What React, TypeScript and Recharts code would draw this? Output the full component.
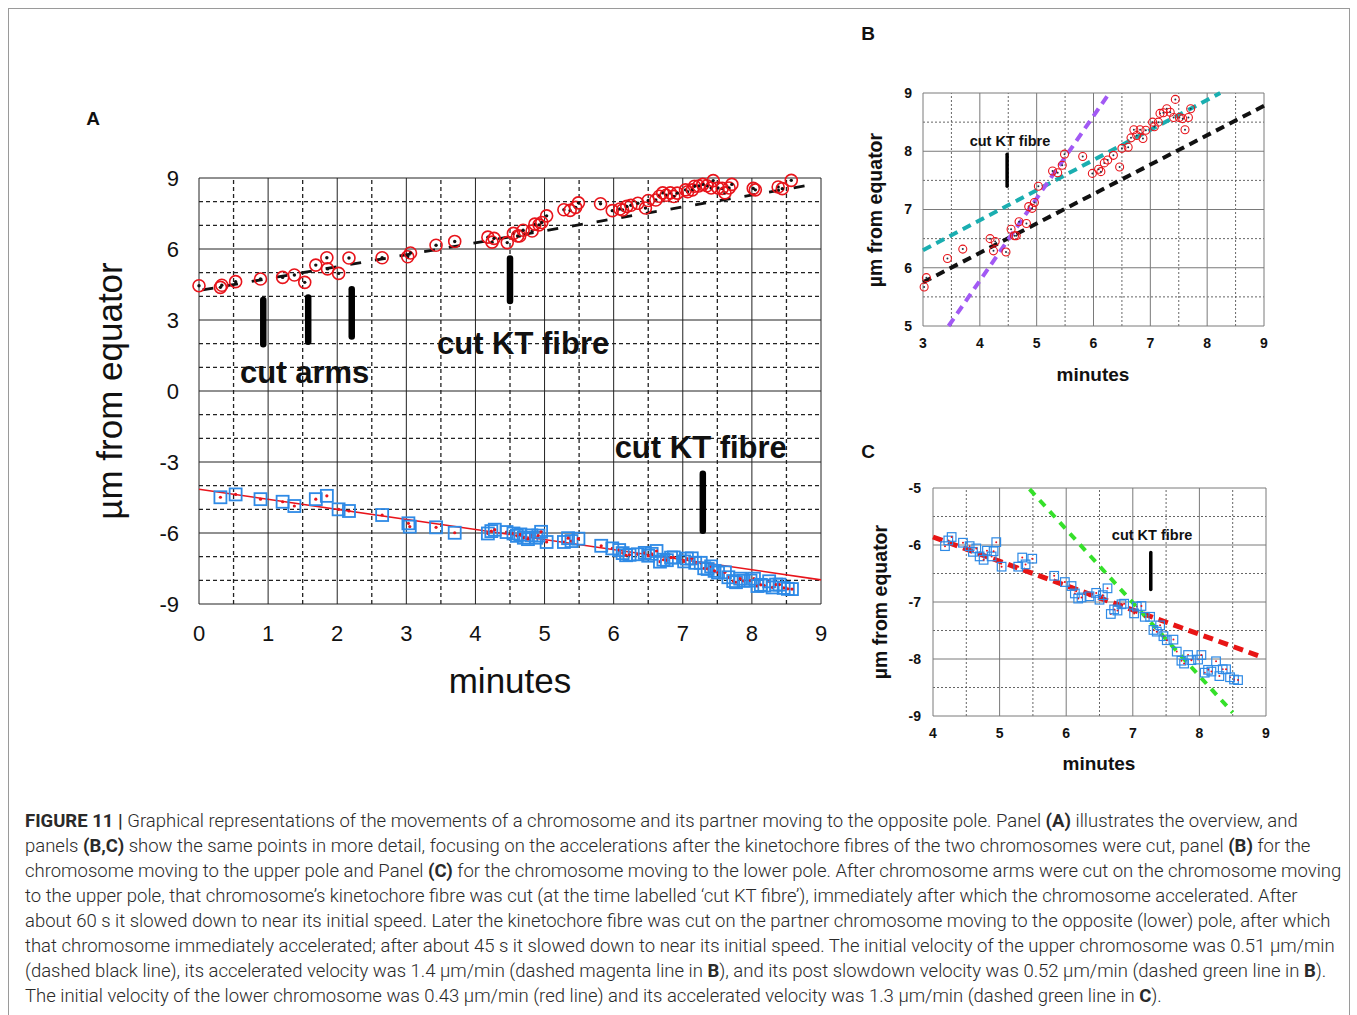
import React from 'react';
import { ScatterChart, Scatter, XAxis, YAxis, ReferenceLine, ReferenceDot } from 'recharts';

// ---------- DATA ----------
// upper chromosome (minutes, µm from equator)
const upperPoints = [
  { t: 0.0, y: 4.45 }, { t: 0.31, y: 4.38 }, { t: 0.33, y: 4.47 }, { t: 0.53, y: 4.62 },
  { t: 0.89, y: 4.73 }, { t: 1.21, y: 4.8 }, { t: 1.38, y: 4.9 }, { t: 1.53, y: 4.59 },
  { t: 1.69, y: 5.32 }, { t: 1.85, y: 5.63 }, { t: 1.86, y: 5.16 }, { t: 2.02, y: 4.97 },
  { t: 2.17, y: 5.62 }, { t: 2.65, y: 5.63 },
  { t: 3.02, y: 5.67 }, { t: 3.06, y: 5.83 }, { t: 3.43, y: 6.16 }, { t: 3.7, y: 6.32 },
  { t: 4.18, y: 6.5 }, { t: 4.24, y: 6.29 }, { t: 4.27, y: 6.45 }, { t: 4.46, y: 6.27 },
  { t: 4.55, y: 6.66 }, { t: 4.61, y: 6.55 }, { t: 4.64, y: 6.55 }, { t: 4.69, y: 6.79 },
  { t: 4.82, y: 6.76 }, { t: 4.86, y: 7.05 }, { t: 4.92, y: 7.02 }, { t: 4.96, y: 7.12 },
  { t: 5.03, y: 7.4 }, { t: 5.28, y: 7.66 }, { t: 5.37, y: 7.63 }, { t: 5.45, y: 7.76 },
  { t: 5.49, y: 7.95 }, { t: 5.81, y: 7.91 }, { t: 5.98, y: 7.62 }, { t: 6.09, y: 7.69 },
  { t: 6.13, y: 7.65 }, { t: 6.19, y: 7.8 }, { t: 6.25, y: 7.85 }, { t: 6.35, y: 7.93 },
  { t: 6.46, y: 7.73 }, { t: 6.5, y: 8.05 }, { t: 6.61, y: 8.07 }, { t: 6.66, y: 8.23 },
  { t: 6.71, y: 8.37 }, { t: 6.76, y: 8.27 }, { t: 6.82, y: 8.37 }, { t: 6.87, y: 8.22 },
  { t: 6.92, y: 8.36 }, { t: 7.04, y: 8.5 }, { t: 7.07, y: 8.42 }, { t: 7.14, y: 8.5 },
  { t: 7.17, y: 8.65 }, { t: 7.23, y: 8.66 }, { t: 7.29, y: 8.73 }, { t: 7.35, y: 8.67 },
  { t: 7.41, y: 8.58 }, { t: 7.44, y: 8.89 }, { t: 7.51, y: 8.58 }, { t: 7.57, y: 8.56 },
  { t: 7.61, y: 8.37 }, { t: 7.67, y: 8.58 }, { t: 7.71, y: 8.73 },
  { t: 8.02, y: 8.56 }, { t: 8.05, y: 8.5 }, { t: 8.38, y: 8.62 }, { t: 8.44, y: 8.55 },
  { t: 8.57, y: 8.9 },
];

// lower chromosome
const lowerPoints = [
  { t: 0.31, y: -4.49 }, { t: 0.53, y: -4.37 }, { t: 0.89, y: -4.57 }, { t: 1.21, y: -4.68 },
  { t: 1.38, y: -4.86 }, { t: 1.69, y: -4.57 }, { t: 1.85, y: -4.43 }, { t: 2.02, y: -5.0 },
  { t: 2.17, y: -5.07 }, { t: 2.65, y: -5.24 }, { t: 3.03, y: -5.59 }, { t: 3.05, y: -5.73 },
  { t: 3.43, y: -5.76 }, { t: 3.7, y: -5.99 },
  { t: 4.18, y: -6.02 }, { t: 4.23, y: -5.92 }, { t: 4.28, y: -5.86 }, { t: 4.45, y: -5.96 },
  { t: 4.55, y: -6.02 }, { t: 4.6, y: -6.12 }, { t: 4.65, y: -6.06 }, { t: 4.7, y: -6.2 },
  { t: 4.76, y: -6.26 }, { t: 4.81, y: -6.1 }, { t: 4.88, y: -6.2 }, { t: 4.91, y: -6.11 },
  { t: 4.95, y: -5.95 }, { t: 5.03, y: -6.38 }, { t: 5.28, y: -6.38 }, { t: 5.34, y: -6.22 },
  { t: 5.39, y: -6.34 }, { t: 5.49, y: -6.24 }, { t: 5.82, y: -6.54 }, { t: 5.98, y: -6.65 },
  { t: 6.08, y: -6.72 }, { t: 6.13, y: -6.85 }, { t: 6.18, y: -6.94 }, { t: 6.23, y: -6.92 },
  { t: 6.35, y: -6.9 }, { t: 6.45, y: -6.84 }, { t: 6.5, y: -6.96 }, { t: 6.55, y: -6.88 },
  { t: 6.62, y: -6.76 }, { t: 6.67, y: -7.21 }, { t: 6.72, y: -7.13 }, { t: 6.77, y: -7.15 },
  { t: 6.83, y: -7.04 }, { t: 6.87, y: -7.03 }, { t: 7.02, y: -7.2 }, { t: 7.06, y: -7.08 },
  { t: 7.13, y: -7.07 }, { t: 7.18, y: -7.26 }, { t: 7.26, y: -7.26 }, { t: 7.31, y: -7.49 },
  { t: 7.36, y: -7.52 }, { t: 7.41, y: -7.41 }, { t: 7.46, y: -7.6 }, { t: 7.51, y: -7.67 },
  { t: 7.61, y: -7.66 }, { t: 7.66, y: -7.87 }, { t: 7.73, y: -8.03 }, { t: 7.77, y: -8.08 },
  { t: 7.83, y: -7.93 }, { t: 7.88, y: -8.02 }, { t: 7.98, y: -8.01 }, { t: 8.03, y: -7.93 },
  { t: 8.08, y: -8.24 }, { t: 8.13, y: -8.19 }, { t: 8.18, y: -8.22 }, { t: 8.25, y: -8.04 },
  { t: 8.3, y: -8.3 }, { t: 8.35, y: -8.18 }, { t: 8.4, y: -8.18 }, { t: 8.46, y: -8.32 },
  { t: 8.52, y: -8.36 }, { t: 8.58, y: -8.37 },
];

// fitted velocity lines (segment end points)
const fitUpperInitialA = [{ x: 0.05, y: 4.27 }, { x: 8.95, y: 8.76 }];
const fitLowerInitialA = [{ x: 0, y: -4.15 }, { x: 9, y: -7.98 }];
const fitUpperInitialB = [{ x: 3, y: 5.75 }, { x: 9, y: 8.78 }];
const fitUpperPostB = [{ x: 3, y: 6.3 }, { x: 8.23, y: 9 }];
const fitUpperAccelB = [{ x: 3.45, y: 5 }, { x: 6.28, y: 9 }];
const fitLowerInitialC = [{ x: 4, y: -5.86 }, { x: 8.9, y: -7.95 }];
const fitLowerAccelC = [{ x: 5.45, y: -5.02 }, { x: 8.5, y: -8.94 }];

// cut marks (time, top, bottom)
const cutMarksA = [
  { t: 0.93, y1: 3.85, y2: 1.98 },
  { t: 1.58, y1: 3.95, y2: 2.08 },
  { t: 2.21, y1: 4.3, y2: 2.3 },
  { t: 4.5, y1: 5.6, y2: 3.8 },
  { t: 7.29, y1: -3.5, y2: -5.9 },
];
const cutMarkB = { t: 4.48, y1: 7.95, y2: 7.4 };
const cutMarkC = { t: 7.27, y1: -6.13, y2: -6.78 };

const annotationsA = [
  { t: 1.53, y: 0.8, text: 'cut arms' },
  { t: 4.69, y: 2.0, text: 'cut KT fibre' },
  { t: 7.26, y: -2.4, text: 'cut KT fibre' },
];
const annotationB = { t: 4.53, y: 8.17, text: 'cut KT fibre' };
const annotationC = { t: 7.29, y: -5.83, text: 'cut KT fibre' };

// axis ticks / grids
const ticksA_X = [0, 1, 2, 3, 4, 5, 6, 7, 8, 9];
const minorA_X = [0.5, 1.5, 2.5, 3.5, 4.5, 5.5, 6.5, 7.5, 8.5];
const ticksA_Y = [-9, -6, -3, 0, 3, 6, 9];
const minorA_Y = [-8, -7, -5, -4, -2, -1, 1, 2, 4, 5, 7, 8];
const ticksB_X = [3, 4, 5, 6, 7, 8, 9];
const minorB_X = [3.5, 4.5, 5.5, 6.5, 7.5, 8.5];
const ticksB_Y = [5, 6, 7, 8, 9];
const minorB_Y = [5.5, 6.5, 7.5, 8.5];
const ticksC_X = [4, 5, 6, 7, 8, 9];
const minorC_X = [4.5, 5.5, 6.5, 7.5, 8.5];
const ticksC_Y = [-9, -8, -7, -6, -5];
const minorC_Y = [-8.5, -7.5, -6.5, -5.5];

const captionLines = [
  [{ b: 'FIGURE 11 | ' }, 'Graphical representations of the movements of a chromosome and its partner moving to the opposite pole. Panel ', { b: '(A)' }, ' illustrates the overview, and'],
  ['panels ', { b: '(B,C)' }, ' show the same points in more detail, focusing on the accelerations after the kinetochore fibres of the two chromosomes were cut, panel ', { b: '(B)' }, ' for the'],
  ['chromosome moving to the upper pole and Panel ', { b: '(C)' }, ' for the chromosome moving to the lower pole. After chromosome arms were cut on the chromosome moving'],
  ['to the upper pole, that chromosome\u2019s kinetochore fibre was cut (at the time labelled \u2018cut KT fibre\u2019), immediately after which the chromosome accelerated. After'],
  ['about 60 s it slowed down to near its initial speed. Later the kinetochore fibre was cut on the partner chromosome moving to the opposite (lower) pole, after which'],
  ['that chromosome immediately accelerated; after about 45 s it slowed down to near its initial speed. The initial velocity of the upper chromosome was 0.51 \u00b5m/min'],
  ['(dashed black line), its accelerated velocity was 1.4 \u00b5m/min (dashed magenta line in ', { b: 'B' }, '), and its post slowdown velocity was 0.52 \u00b5m/min (dashed green line in ', { b: 'B' }, ').'],
  ['The initial velocity of the lower chromosome was 0.43 \u00b5m/min (red line) and its accelerated velocity was 1.3 \u00b5m/min (dashed green line in ', { b: 'C' }, ').'],
];

// ---------- STYLES ----------
const FONT = '"Liberation Sans", Arial, sans-serif';
const RED = '#e8141b';
const BLUE = '#2e8ae6';

const circleA = (p: any) => (
  <g>
    <circle cx={p.cx} cy={p.cy} r={6} fill="none" stroke={RED} strokeWidth={1.6} />
    <circle cx={p.cx} cy={p.cy} r={1.7} fill="#111" />
  </g>
);
const squareA = (p: any) => (
  <g>
    <rect x={p.cx - 6} y={p.cy - 6} width={12} height={12} fill="none" stroke={BLUE} strokeWidth={1.8} />
    <circle cx={p.cx} cy={p.cy} r={1.6} fill={RED} />
  </g>
);
const circleB = (p: any) => (
  <g>
    <circle cx={p.cx} cy={p.cy} r={4} fill="none" stroke={RED} strokeWidth={1.1} />
    <circle cx={p.cx} cy={p.cy} r={1} fill="#234" />
  </g>
);
const squareC = (p: any) => (
  <g>
    <rect x={p.cx - 4.3} y={p.cy - 4.3} width={8.6} height={8.6} fill="none" stroke={BLUE} strokeWidth={1.2} />
    <circle cx={p.cx} cy={p.cy} r={1} fill={RED} />
  </g>
);

const labelShape = (text: string, size: number) => (p: any) => (
  <text x={p.cx} y={p.cy} textAnchor="middle" dominantBaseline="central" fontSize={size} fontWeight="bold" fill="#111" fontFamily={FONT}>
    {text}
  </text>
);

function gridLines(majX: number[], minX: number[], majY: number[], minY: number[], majColor: string, minColor: string, minDash: string, minWidth: number) {
  const out: any[] = [];
  minX.forEach((v) => out.push(<ReferenceLine key={'mx' + v} x={v} stroke={minColor} strokeDasharray={minDash} strokeWidth={minWidth} />));
  minY.forEach((v) => out.push(<ReferenceLine key={'my' + v} y={v} stroke={minColor} strokeDasharray={minDash} strokeWidth={minWidth} />));
  majX.forEach((v) => out.push(<ReferenceLine key={'Mx' + v} x={v} stroke={majColor} strokeWidth={1} />));
  majY.forEach((v) => out.push(<ReferenceLine key={'My' + v} y={v} stroke={majColor} strokeWidth={1} />));
  return out;
}

function Txt(props: { x: number; y: number; size: number; bold?: boolean; rotate?: boolean; children: any; color?: string }) {
  return (
    <div
      style={{
        position: 'absolute', left: props.x, top: props.y, fontSize: props.size,
        fontWeight: props.bold ? 'bold' : 'normal', whiteSpace: 'nowrap', lineHeight: 1,
        color: props.color || '#111', fontFamily: FONT,
        transform: 'translate(-50%, -50%)' + (props.rotate ? ' rotate(-90deg)' : ''),
      }}
    >
      {props.children}
    </div>
  );
}

function PanelA() {
  return (
    <div style={{ position: 'absolute', left: 100, top: 160 }}>
      <ScatterChart width={741} height={500} margin={{ top: 18, right: 20, bottom: 0, left: 0 }}>
        <XAxis type="number" dataKey="t" domain={[0, 9]} ticks={ticksA_X} interval={0} axisLine={false} tickLine={false} tickSize={0} tickMargin={21} height={56} tick={{ fontSize: 22, fill: '#111', fontFamily: FONT }} />
        <YAxis type="number" dataKey="y" domain={[-9, 9]} ticks={ticksA_Y} interval={0} axisLine={false} tickLine={false} tickSize={0} tickMargin={20} width={99} tick={{ fontSize: 22, fill: '#111', fontFamily: FONT }} />
        {gridLines(ticksA_X, minorA_X, ticksA_Y, minorA_Y, '#222', '#222', '4 3', 1.3)}
        <Scatter data={upperPoints} shape={circleA} isAnimationActive={false} />
        <Scatter data={lowerPoints} shape={squareA} isAnimationActive={false} />
        <ReferenceLine segment={fitUpperInitialA} stroke="#111" strokeWidth={2.8} strokeDasharray="11 14" />
        <ReferenceLine segment={fitLowerInitialA} stroke={RED} strokeWidth={1.6} />
        {cutMarksA.map((c, i) => (
          <ReferenceLine key={'c' + i} segment={[{ x: c.t, y: c.y1 }, { x: c.t, y: c.y2 }]} stroke="#000" strokeWidth={6.5} strokeLinecap="round" />
        ))}
        {annotationsA.map((a, i) => (
          <ReferenceDot key={'a' + i} x={a.t} y={a.y} r={0} shape={labelShape(a.text, 31)} />
        ))}
      </ScatterChart>
    </div>
  );
}

function PanelB() {
  const pts = upperPoints.filter((p) => p.t >= 3 && p.t <= 7.8);
  return (
    <div style={{ position: 'absolute', left: 870, top: 75 }}>
      <ScatterChart width={404} height={291} margin={{ top: 18, right: 10, bottom: 0, left: 0 }}>
        <XAxis type="number" dataKey="t" domain={[3, 9]} ticks={ticksB_X} interval={0} axisLine={false} tickLine={false} tickSize={0} tickMargin={12} height={40} tick={{ fontSize: 14, fontWeight: 'bold', fill: '#111', fontFamily: FONT }} />
        <YAxis type="number" dataKey="y" domain={[5, 9]} ticks={ticksB_Y} interval={0} axisLine={false} tickLine={false} tickSize={0} tickMargin={11} width={53} tick={{ fontSize: 14, fontWeight: 'bold', fill: '#111', fontFamily: FONT }} />
        {gridLines(ticksB_X, minorB_X, ticksB_Y, minorB_Y, '#7a7a7a', '#555', '2 2', 0.9)}
        <Scatter data={pts} shape={circleB} isAnimationActive={false} />
        <ReferenceLine segment={fitUpperPostB} stroke="#1aaeb0" strokeWidth={4} strokeDasharray="9 6" />
        <ReferenceLine segment={fitUpperInitialB} stroke="#111" strokeWidth={4} strokeDasharray="9 6" />
        <ReferenceLine segment={fitUpperAccelB} stroke="#a259f4" strokeWidth={4} strokeDasharray="9 6" />
        <ReferenceLine segment={[{ x: cutMarkB.t, y: cutMarkB.y1 }, { x: cutMarkB.t, y: cutMarkB.y2 }]} stroke="#000" strokeWidth={3.5} strokeLinecap="round" />
        <ReferenceDot x={annotationB.t} y={annotationB.y} r={0} shape={labelShape(annotationB.text, 14.5)} />
      </ScatterChart>
    </div>
  );
}

function PanelC() {
  const pts = lowerPoints.filter((p) => p.t >= 4);
  return (
    <div style={{ position: 'absolute', left: 880, top: 470 }}>
      <ScatterChart width={396} height={286} margin={{ top: 18, right: 10, bottom: 0, left: 0 }}>
        <XAxis type="number" dataKey="t" domain={[4, 9]} ticks={ticksC_X} interval={0} axisLine={false} tickLine={false} tickSize={0} tickMargin={12} height={40} tick={{ fontSize: 14, fontWeight: 'bold', fill: '#111', fontFamily: FONT }} />
        <YAxis type="number" dataKey="y" domain={[-9, -5]} ticks={ticksC_Y} interval={0} axisLine={false} tickLine={false} tickSize={0} tickMargin={12} width={53} tick={{ fontSize: 14, fontWeight: 'bold', fill: '#111', fontFamily: FONT }} />
        {gridLines(ticksC_X, minorC_X, ticksC_Y, minorC_Y, '#7a7a7a', '#555', '2 2', 0.9)}
        <Scatter data={pts} shape={squareC} isAnimationActive={false} />
        <ReferenceLine segment={fitLowerInitialC} stroke="#e81515" strokeWidth={5} strokeDasharray="10 6" />
        <ReferenceLine segment={fitLowerAccelC} stroke="#35e02a" strokeWidth={4} strokeDasharray="8 7" />
        <ReferenceLine segment={[{ x: cutMarkC.t, y: cutMarkC.y1 }, { x: cutMarkC.t, y: cutMarkC.y2 }]} stroke="#000" strokeWidth={3.5} strokeLinecap="round" />
        <ReferenceDot x={annotationC.t} y={annotationC.y} r={0} shape={labelShape(annotationC.text, 14.5)} />
      </ScatterChart>
    </div>
  );
}

export default function App() {
  return (
    <div style={{ position: 'fixed', left: 0, top: 0, width: 1357, height: 1015, background: '#fff', overflow: 'hidden', fontFamily: FONT }}>
      <div style={{ position: 'absolute', left: 8, top: 8, width: 1340, height: 1020, border: '1px solid #9a9a9a' }} />
      <Txt x={93} y={118} size={19} bold>A</Txt>
      <Txt x={868} y={33} size={19} bold>B</Txt>
      <Txt x={868} y={451} size={19} bold>C</Txt>

      <PanelA />
      <Txt x={510} y={680} size={35}>minutes</Txt>
      <Txt x={109} y={391} size={35} rotate>µm from equator</Txt>

      <PanelB />
      <Txt x={1093} y={374} size={19} bold>minutes</Txt>
      <Txt x={876} y={210} size={19.5} bold rotate>µm from equator</Txt>

      <PanelC />
      <Txt x={1099} y={763} size={19} bold>minutes</Txt>
      <Txt x={881} y={602} size={19.5} bold rotate>µm from equator</Txt>

      <div style={{ position: 'absolute', left: 25, top: 809, fontFamily: 'Roboto, sans-serif', fontWeight: 300, fontSize: 18.5, color: '#2a2a2a' }}>
        {captionLines.map((line, i) => (
          <div key={i} style={{ whiteSpace: 'nowrap', height: 25, lineHeight: '25px' }}>
            {line.map((seg: any, j: number) =>
              typeof seg === 'string' ? <span key={j}>{seg}</span> : <span key={j} style={{ fontWeight: 700 }}>{seg.b}</span>
            )}
          </div>
        ))}
      </div>
    </div>
  );
}
